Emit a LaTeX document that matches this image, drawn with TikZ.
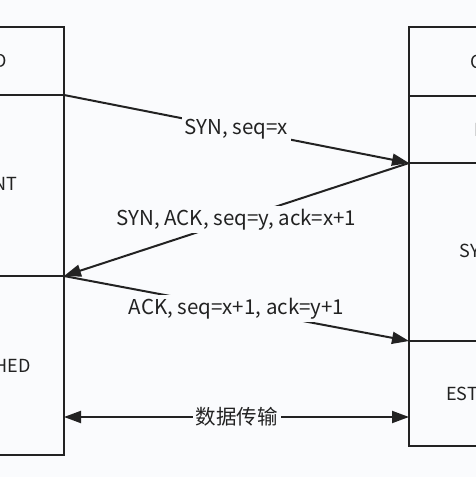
\documentclass[tikz,border=0pt]{standalone}
\usepackage{fontspec}
\setmainfont{Noto Sans CJK SC}
\usetikzlibrary{positioning,arrows.meta}
\definecolor{paper}{RGB}{250,251,253}
\definecolor{ink}{RGB}{34,34,34}

\begin{document}
\begin{tikzpicture}[x=1pt, y=1pt, line width=2pt, ink,
    state/.style = {draw, rectangle, inner sep=0pt, outer sep=0pt, font=\fontsize{18}{22}\selectfont},
    msg/.style = {-{Triangle[length=17pt,width=12pt]}},
    lbl/.style = {fill=paper, inner sep=3pt, font=\fontsize{20.5}{24}\selectfont}]
  \useasboundingbox (0,0) rectangle (476,477);
  \fill[paper] (0,0) rectangle (476,477);
  \clip (0,0) rectangle (476,477);
  % client side
  \node[state, minimum width=182, minimum height=68] (clientClosed) at (-27,416) {CLOSED};
  \node[state, minimum width=182, minimum height=181, below=0pt of clientClosed] (clientSynSent) {SYN\_SENT};
  \node[state, minimum width=182, minimum height=179, below=0pt of clientSynSent] (clientEstab) {ESTABLISHED};
  % server side
  \node[state, minimum width=190, minimum height=69] (serverClosed) at (504,415.5) {CLOSED};
  \node[state, minimum width=190, minimum height=67, below=0pt of serverClosed] (serverListen) {LISTEN};
  \node[state, minimum width=190, minimum height=178, below=0pt of serverListen] (serverSynRcvd) {SYN\_RCVD};
  \node[state, minimum width=190, minimum height=105, below=0pt of serverSynRcvd] (serverEstab) {ESTABLISHED};
  \coordinate (dataY) at (0,60);
  % handshake
  \draw[msg] (clientSynSent.north east) -- node[lbl] {SYN, seq=x} (serverSynRcvd.north west);
  \draw[msg] (serverSynRcvd.north west) -- node[lbl] {SYN, ACK, seq=y, ack=x+1} (clientEstab.north east);
  \draw[msg] (clientEstab.north east) -- node[lbl] {ACK, seq=x+1, ack=y+1} (serverEstab.north west);
  \draw[{Triangle[length=17pt,width=12pt]}-{Triangle[length=17pt,width=12pt]}] (clientEstab.east |- dataY) -- node[lbl] {数据传输} (serverEstab.west |- dataY);
\end{tikzpicture}
\end{document}
